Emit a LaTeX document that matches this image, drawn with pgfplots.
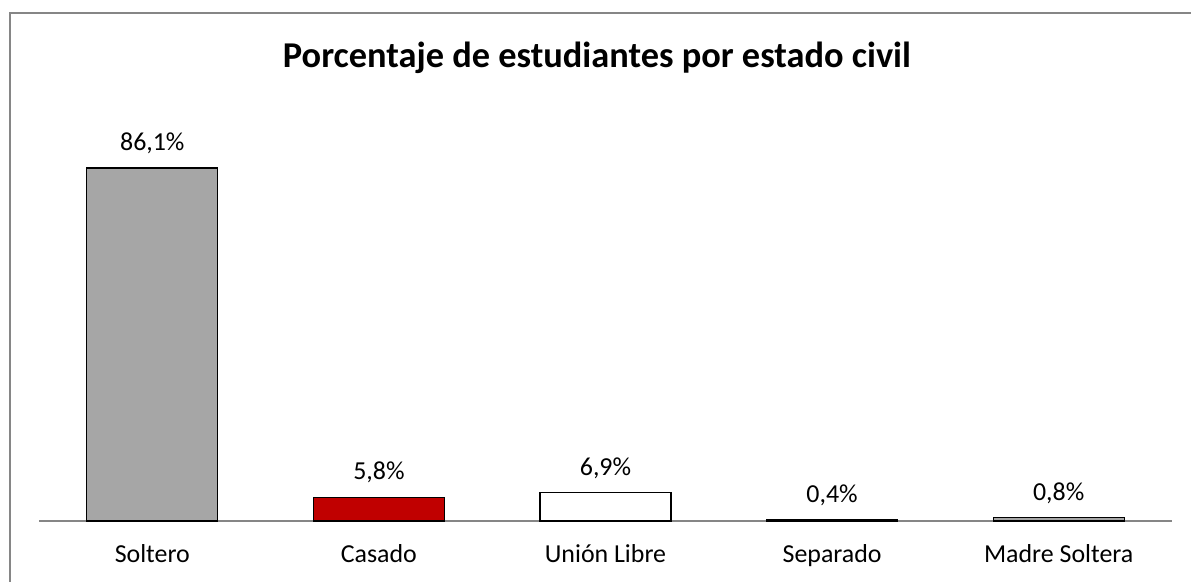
\documentclass[border=0pt]{standalone}
\usepackage{pgfplots}
\pgfplotsset{compat=1.18}
\usepackage{fontspec}
\setmainfont{Carlito}
\definecolor{gris}{HTML}{A6A6A6}
\definecolor{rojo}{HTML}{C00000}
\definecolor{marco}{HTML}{868686}
\begin{document}
\begin{tikzpicture}[x=1bp,y=1bp]
\useasboundingbox (0,0) rectangle (1191,582);
\draw[marco, line width=1.5bp] (10,-5) -- (10,569) -- (1200,569);
\node[font=\fontsize{36.5}{40}\selectfont\bfseries] at (597,524) {Porcentaje de estudiantes por estado civil};
\begin{axis}[
  at={(39bp,61bp)}, anchor=south west,
  scale only axis, width=1133bp, height=410bp,
  xmin=-0.5, xmax=4.5, ymin=0, ymax=100,
  axis x line=bottom, axis y line=none,
  axis line style={marco, line width=1.2bp, -},
  xtick={0,1,2,3,4},
  xticklabels={Soltero, Casado, Unión Libre, Separado, Madre Soltera},
  major tick length=0pt,
  ticklabel style={font=\fontsize{26}{30}\selectfont},
  xticklabel style={yshift=-20bp},
  ytick=\empty,
  /pgf/number format/assume math mode=true,
  ybar, bar width=131bp, bar shift=0pt,
  every axis plot/.append style={draw=black, line width=1.3bp},
  nodes near coords={\pgfmathprintnumber[use comma,fixed,precision=1,fixed zerofill,assume math mode=true]{\pgfplotspointmeta}\%},
  every node near coord/.append style={font=\fontsize{26}{30}\selectfont, black, yshift=10bp},
  clip=false,
]
\addplot[fill=gris] coordinates {(0,86.1)};
\addplot[fill=rojo] coordinates {(1,5.8)};
\addplot[fill=white] coordinates {(2,6.9)};
\addplot[fill=gris] coordinates {(3,0.4)};
\addplot[fill=gris] coordinates {(4,0.8)};
\end{axis}
\end{tikzpicture}
\end{document}
